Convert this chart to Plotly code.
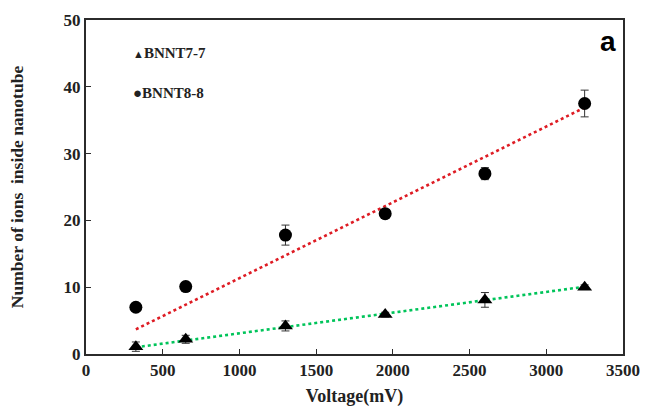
import numpy as np
import plotly.graph_objects as go

# Applied voltage (mV)
voltage = [325, 650, 1300, 1950, 2600, 3250]

# BNNT7-7: mean ion count and its error
bnnt77 = [1.1, 2.2, 4.2, 5.9, 8.1, 10.0]
bnnt77_err = [0.7, 0.6, 0.75, 0.35, 1.1, 0.35]

# BNNT8-8: mean ion count and its error
bnnt88 = [7.0, 10.1, 17.8, 21.0, 27.0, 37.5]
bnnt88_err = [0.0, 0.0, 1.5, 0.0, 0.9, 2.0]

x_ticks = [0, 500, 1000, 1500, 2000, 2500, 3000, 3500]
y_ticks = [0, 10, 20, 30, 40, 50]

SERIF = "Liberation Serif, Times New Roman, serif"

x = np.array(voltage, dtype=float)


def origin_fit(y):
    """Least-squares line through the origin, evaluated at the data range."""
    y = np.asarray(y, dtype=float)
    k = (x * y).sum() / (x * x).sum()
    xs = np.array([x.min(), x.max()])
    return xs, k * xs


fig = go.Figure()

# dotted trend lines (drawn under the markers)
fx, fy = origin_fit(bnnt88)
fig.add_trace(go.Scatter(x=fx, y=fy, mode="lines", showlegend=False,
                         line=dict(color="rgb(222,28,36)", width=2.6, dash="dot"),
                         hoverinfo="skip"))
fx, fy = origin_fit(bnnt77)
fig.add_trace(go.Scatter(x=fx, y=fy, mode="lines", showlegend=False,
                         line=dict(color="rgb(0,196,90)", width=2.6, dash="dot"),
                         hoverinfo="skip"))

err_style = dict(type="data", visible=True, color="#333333", thickness=1, width=4)

fig.add_trace(go.Scatter(
    x=voltage, y=bnnt88, mode="markers", name="BNNT8-8", showlegend=False,
    error_y=dict(array=bnnt88_err, **err_style),
    marker=dict(symbol="circle", size=13, color="black")))

fig.add_trace(go.Scatter(
    x=voltage, y=bnnt77, mode="markers", name="BNNT7-7", showlegend=False,
    error_y=dict(array=bnnt77_err, **err_style),
    marker=dict(symbol="triangle-up", size=13, color="black")))

axis_common = dict(
    showgrid=False, zeroline=False, automargin=False,
    showline=True, linecolor="#2b2b2b", linewidth=2, mirror=True,
    ticks="inside", ticklen=5, tickwidth=1.2, tickcolor="#2b2b2b",
    tickfont=dict(family=SERIF, size=17, color="#222222", weight="bold"),
)

fig.update_xaxes(range=[0, 3500], tickvals=x_ticks, **axis_common,
                 title=dict(text="Voltage(mV)", standoff=10,
                            font=dict(family=SERIF, size=18, color="#222222",
                                      weight="bold")))
fig.update_yaxes(range=[0, 50], tickvals=y_ticks, **axis_common,
                 title=dict(text="Number of ions  inside nanotube", standoff=35,
                            font=dict(family=SERIF, size=17.5, color="#222222",
                                      weight="bold")))

annotations = [
    dict(x=0.083, y=0.9, xref="paper", yref="paper", xanchor="left", yanchor="middle",
         text="<span style='font-size:11px'>▲</span>BNNT7-7", showarrow=False,
         font=dict(family=SERIF, size=15, color="#222222", weight="bold")),
    dict(x=0.083, y=0.782, xref="paper", yref="paper", xanchor="left", yanchor="middle",
         text="<span style='font-size:15px'>●</span>BNNT8-8", showarrow=False,
         font=dict(family=SERIF, size=15, color="#222222", weight="bold")),
    dict(x=0.99, y=0.935, xref="paper", yref="paper", xanchor="right", yanchor="middle",
         text="a", showarrow=False,
         font=dict(family="Liberation Sans, Arial, sans-serif", size=28, color="black",
                   weight="bold")),
]

fig.update_layout(
    width=646, height=411,
    margin=dict(l=86, r=23, t=20, b=57),
    paper_bgcolor="white", plot_bgcolor="white",
    annotations=annotations,
    showlegend=False,
)

fig.write_html("out.html")
